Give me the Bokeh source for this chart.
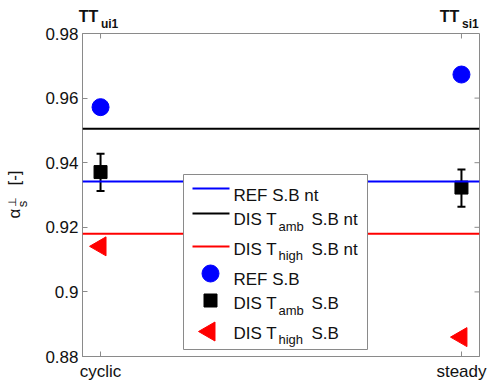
import math
from bokeh.plotting import figure
from bokeh.models import (Range1d, FixedTicker, LinearAxis, Span, Whisker, TeeHead,
                          ColumnDataSource, Label)
from bokeh.embed import file_html
from bokeh.resources import INLINE

# ---------------- data ----------------
categories = ["cyclic", "steady"]
x_pos = [1, 2]
top_names = ["TT", "TT"]
top_subs = ["ui1", "si1"]
ref_sb = [0.9572, 0.9673]
dis_amb_sb = [0.9371, 0.9323]
dis_amb_hi = [0.9428, 0.9379]
dis_amb_lo = [0.9312, 0.9264]
dis_high_sb = [0.9141, 0.8860]
ref_nt = 0.9342
dis_amb_nt = 0.9505
dis_high_nt = 0.9180
y_ticks = [0.88, 0.9, 0.92, 0.94, 0.96, 0.98]
y_tick_labels = ["0.88", "0.9", "0.92", "0.94", "0.96", "0.98"]

# ---------------- layout ----------------
W, H = 487, 385
FL, FR, FT, FB = 82, 8, 33, 29
FW, FH = W - FL - FR, H - FT - FB
XMIN, XMAX = 0.95, 2.05
YMIN, YMAX = 0.88, 0.98
FONT = "Liberation Sans"
DESC = 0.212        # descent below baseline (em)
BOX = 1.45          # height of a text box as measured by the layout (em)
GRAY = "#8a8a8a"
BLUE, RED, BLACK = "#0000ff", "#ff0000", "#000000"
TXT = "#111111"
TICK = 5
TICKFS = 17
TICK_STANDOFF = 4


def xd(px):
    return XMIN + (px - FL) / FW * (XMAX - XMIN)


def yd(py):
    return YMAX - (py - FT) / FH * (YMAX - YMIN)


def xpx(x):
    return FL + (x - XMIN) / (XMAX - XMIN) * FW


p = figure(width=W, height=H, output_backend="svg", toolbar_location=None,
           x_range=Range1d(XMIN, XMAX), y_range=Range1d(YMIN, YMAX),
           min_border_left=FL, min_border_right=FR, min_border_top=FT,
           min_border_bottom=FB, x_axis_location=None, y_axis_location=None)
p.xgrid.visible = False
p.ygrid.visible = False
p.outline_line_color = GRAY
p.background_fill_color = "white"
p.border_fill_color = "white"


def style_axis(ax):
    ax.axis_line_color = GRAY
    ax.major_tick_line_color = GRAY
    ax.major_tick_in = TICK
    ax.major_tick_out = 0
    ax.minor_tick_line_color = None
    ax.major_label_text_font = FONT
    ax.major_label_text_color = TXT
    ax.major_label_text_font_size = f"{TICKFS}px"
    ax.major_label_standoff = TICK_STANDOFF


left = LinearAxis(ticker=FixedTicker(ticks=y_ticks),
                  major_label_overrides=dict(zip(y_ticks, y_tick_labels)))
style_axis(left)
bottom = LinearAxis(ticker=FixedTicker(ticks=x_pos),
                    major_label_overrides=dict(zip(x_pos, categories)))
style_axis(bottom)
bottom.major_label_standoff = 5
p.add_layout(left, "left")
p.add_layout(bottom, "below")


def text_axis(side, line, base, ticks, labels, size, bold=False, orient="horizontal"):
    """Label-only axis stacked in a side panel: places text outside the box.
    line = the panel's inner edge, base = wanted baseline (pixels from the
    canvas' top or left edge). Returns the panel's outer edge."""
    so = int(round(line - DESC * size - base))
    ax = LinearAxis(ticker=FixedTicker(ticks=ticks),
                    major_label_overrides=dict(zip(ticks, labels)),
                    axis_line_color=None, major_tick_line_color=None,
                    minor_tick_line_color=None, major_tick_in=0, major_tick_out=0,
                    major_label_standoff=so,
                    major_label_text_font=FONT,
                    major_label_text_font_size=f"{size}px",
                    major_label_text_font_style="bold" if bold else "normal",
                    major_label_text_color=TXT, major_label_orientation=orient)
    p.add_layout(ax, side)
    return line - so - BOX * size


# ---- top labels TT_ui1 / TT_si1 (stacked panels above the box) ----
edge = text_axis("above", FT, 27, [xd(xpx(v) + 9) for v in x_pos], top_subs, 12, True)
edge = text_axis("above", edge, 20, [xd(xpx(v) - 12) for v in x_pos], top_names, 16, True)

# ---- y label: alpha_s^perp [-] (stacked panels left of the tick labels) ----
edge = FL - TICK_STANDOFF - 1.946 * TICKFS
edge = text_axis("left", edge, 29.5, [yd(203.5)], ["s"], 13, orient="parallel")
edge = text_axis("left", edge, 21.5, [yd(213), yd(177.5)], ["α", "[-]"], 17,
                 orient="parallel")
edge = text_axis("left", edge, 14, [yd(201)], ["⊥"], 11, orient="parallel")

# mirrored inward ticks on the right and top edges of the box
p.segment(x0=[xd(FL + FW - TICK)] * len(y_ticks), x1=[XMAX] * len(y_ticks),
          y0=y_ticks, y1=y_ticks, line_color=GRAY, line_width=1)
p.segment(x0=x_pos, x1=x_pos, y0=[YMAX] * len(x_pos),
          y1=[yd(FT + TICK)] * len(x_pos), line_color=GRAY, line_width=1)

# horizontal reference lines
for val, col in [(dis_amb_nt, BLACK), (ref_nt, BLUE), (dis_high_nt, RED)]:
    p.add_layout(Span(location=val, dimension="width", line_color=col, line_width=2))

# error bars
err_src = ColumnDataSource(dict(x=x_pos, hi=dis_amb_hi, lo=dis_amb_lo))
p.add_layout(Whisker(source=err_src, base="x", upper="hi", lower="lo",
                     line_color=BLACK, line_width=2,
                     upper_head=TeeHead(size=8, line_width=2, line_color=BLACK),
                     lower_head=TeeHead(size=8, line_width=2, line_color=BLACK)))

# points
p.scatter(x_pos, ref_sb, marker="circle", size=17, fill_color=BLUE, line_color=BLUE)
p.scatter(x_pos, dis_amb_sb, marker="square", size=13, fill_color=BLACK, line_color=BLACK)
p.scatter(x_pos, dis_high_sb, marker="triangle", size=19, angle=math.pi / 2,
          fill_color=RED, line_color=RED)

# ---------------- legend (manual, for subscripts) ----------------
p.quad(left=[xd(183)], right=[xd(367)], top=[yd(174)], bottom=[yd(349)],
       fill_color="white", line_color=GRAY, line_width=1, level="overlay")

for py, col in [(188, BLUE), (213, BLACK), (246, RED)]:
    p.line([xd(192), xd(229)], [yd(py), yd(py)], line_color=col, line_width=2,
           level="overlay")
p.scatter([xd(210)], [yd(273)], marker="circle", size=17, fill_color=BLUE,
          line_color=BLUE, level="overlay")
p.scatter([xd(210)], [yd(300)], marker="square", size=13, fill_color=BLACK,
          line_color=BLACK, level="overlay")
p.scatter([xd(209)], [yd(331)], marker="triangle", size=19, angle=math.pi / 2,
          fill_color=RED, line_color=RED, level="overlay")


def lab(text, px, py, size="17px"):
    p.add_layout(Label(x=xd(px), y=yd(py), text=text, text_font=FONT,
                       text_font_size=size, text_align="left",
                       text_baseline="alphabetic", text_color=TXT,
                       level="overlay"))


lab("REF S.B nt", 233, 195)
lab("DIS T", 233, 219); lab("amb", 278, 226, "13px"); lab("S.B nt", 311, 219)
lab("DIS T", 233, 249); lab("high", 278, 255, "13px"); lab("S.B nt", 311, 249)
lab("REF S.B", 233, 279)
lab("DIS T", 233, 303); lab("amb", 278, 310, "13px"); lab("S.B", 311, 303)
lab("DIS T", 233, 333); lab("high", 278, 339, "13px"); lab("S.B", 311, 333)

open("out.html", "w").write(file_html(p, INLINE))
